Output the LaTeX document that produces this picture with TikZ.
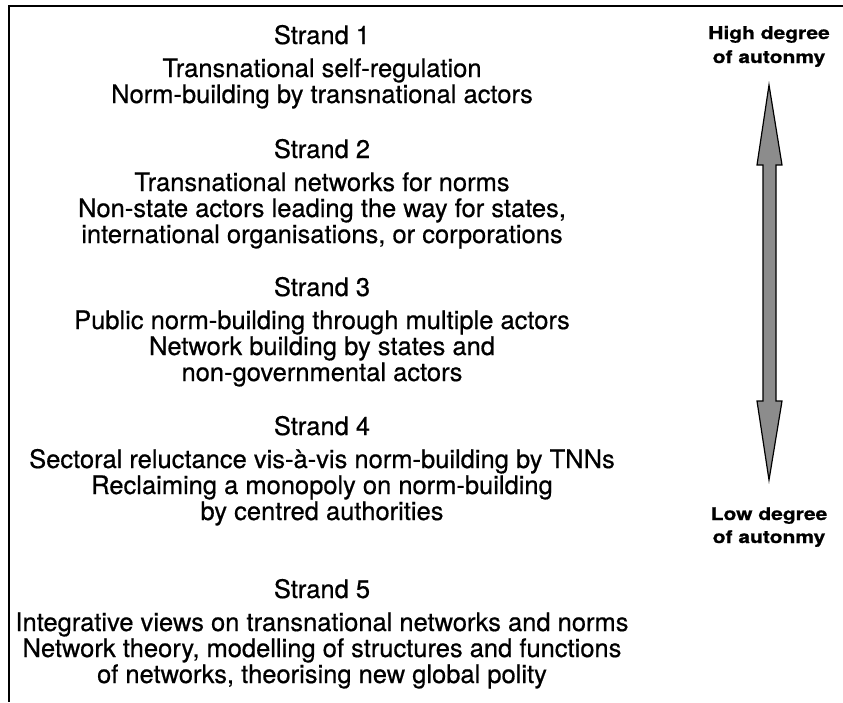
\documentclass[tikz,border=0pt]{standalone}
\usepackage{fontspec}
\setmainfont{TeX Gyre Heros}[FakeBold=0.6]
\newfontfamily\labfont{TeX Gyre Heros}[FakeStretch=1.2,FakeBold=0.8]
\usetikzlibrary{calc}
\tikzset{
  txt/.style={anchor=base, inner sep=0pt, font=\fontsize{25.5}{27}\selectfont},
  lab/.style={anchor=base, inner sep=0pt, font=\labfont\bfseries\fontsize{17.5}{19}\selectfont},
  frame/.style={line width=2.5pt},
  bigarrow/.style={draw=black, line width=1.2pt, fill=black!45, line join=miter},
}
\begin{document}
\begin{tikzpicture}[x=1pt,y=1pt]
\useasboundingbox (0,0) rectangle (843,-702);
\draw[frame] (843,-6) -- (9,-6) -- (9,-702);
\def\cx{322}
% Strand 1
\node[txt] (s1h) at (\cx,-44) {Strand 1};
\node[txt] (s1a) at (\cx,-77) {Transnational self-regulation};
\node[txt] (s1b) at (\cx,-103) {Norm-building by transnational actors};
% Strand 2
\node[txt] (s2h) at (\cx,-158) {Strand 2};
\node[txt] (s2a) at (\cx,-191) {Transnational networks for norms};
\node[txt] (s2b) at (\cx,-217) {Non-state actors leading the way for states,};
\node[txt] (s2c) at (\cx,-243) {international organisations, or corporations};
% Strand 3
\node[txt] (s3h) at (\cx,-296) {Strand 3};
\node[txt] (s3a) at (\cx,-329) {Public norm-building through multiple actors};
\node[txt] (s3b) at (\cx,-355) {Network building by states and};
\node[txt] (s3c) at (\cx,-381) {non-governmental actors};
% Strand 4
\node[txt] (s4h) at (\cx,-435) {Strand 4};
\node[txt] (s4a) at (\cx,-468) {Sectoral reluctance vis-à-vis norm-building by TNNs};
\node[txt] (s4b) at (\cx,-494) {Reclaiming a monopoly on norm-building};
\node[txt] (s4c) at (\cx,-520) {by centred authorities};
% Strand 5
\node[txt] (s5h) at (\cx,-598) {Strand 5};
\node[txt] (s5a) at (\cx,-631) {Integrative views on transnational networks and norms};
\node[txt] (s5b) at (\cx,-657) {Network theory, modelling of structures and functions};
\node[txt] (s5c) at (\cx,-683) {of networks, theorising new global polity};
% labels
\node[lab] (hi1) at (769,-39) {High degree};
\node[lab] (hi2) at (769,-63) {of autonmy};
\node[lab] (lo1) at (769,-520) {Low degree};
\node[lab] (lo2) at (769,-543) {of autonmy};
% double arrow
\coordinate (tipT) at (769,-85);
\coordinate (tipB) at (769,-480);
\draw[bigarrow] (tipT) -- ($(tipT)+(13,-80)$) -- ($(tipT)+(7,-80)$)
  -- ($(tipB)+(7,79)$) -- ($(tipB)+(13,79)$) -- (tipB)
  -- ($(tipB)+(-12,79)$) -- ($(tipB)+(-6,79)$)
  -- ($(tipT)+(-6,-80)$) -- ($(tipT)+(-12,-80)$) -- cycle;
\end{tikzpicture}
\end{document}
